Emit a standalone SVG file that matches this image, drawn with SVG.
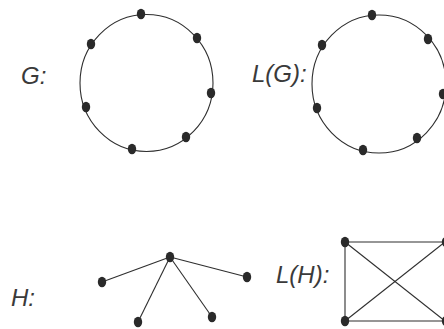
<svg xmlns="http://www.w3.org/2000/svg" width="444" height="329" viewBox="0 0 444 329">
<style>
.lbl{font-family:"Liberation Sans",Arial,sans-serif;font-style:italic;font-size:24px;fill:#3a3a3a}
.edge{stroke:#2e2e2e;stroke-width:1.1;fill:none}
.node{fill:#2a2a2a}
</style>
<rect width="444" height="329" fill="#fff"/>
<g id="connectors">
<ellipse class="edge" cx="146.5" cy="83" rx="66.5" ry="68.5"/>
<ellipse class="edge" cx="379" cy="84" rx="67" ry="69"/>
<line class="edge" x1="170" y1="257" x2="102" y2="282"/>
<line class="edge" x1="170" y1="257" x2="138" y2="322"/>
<line class="edge" x1="170" y1="257" x2="212" y2="317"/>
<line class="edge" x1="170" y1="257" x2="247" y2="277"/>
<line class="edge" x1="345" y1="242" x2="445" y2="242"/>
<line class="edge" x1="345" y1="242" x2="345" y2="321"/>
<line class="edge" x1="345" y1="321" x2="445" y2="321"/>
<line class="edge" x1="345" y1="242" x2="445" y2="321"/>
<line class="edge" x1="345" y1="321" x2="445" y2="242"/>
</g>
<g id="label-G"><text class="lbl" x="21" y="84">G:</text></g>
<g id="label-LG"><text class="lbl" x="252" y="82">L(G):</text></g>
<g id="label-H"><text class="lbl" x="11" y="306">H:</text></g>
<g id="label-LH"><text class="lbl" x="276" y="283">L(H):</text></g>
<g id="G-nodes">
<ellipse id="g1" class="node" cx="141" cy="14" rx="4.2" ry="5.2"/>
<ellipse id="g2" class="node" cx="197" cy="38" rx="4.2" ry="5.2"/>
<ellipse id="g3" class="node" cx="91" cy="44" rx="4.2" ry="5.2"/>
<ellipse id="g4" class="node" cx="211" cy="93" rx="4.2" ry="5.2"/>
<ellipse id="g5" class="node" cx="86" cy="107" rx="4.2" ry="5.2"/>
<ellipse id="g6" class="node" cx="186" cy="137" rx="4.2" ry="5.2"/>
<ellipse id="g7" class="node" cx="132" cy="149" rx="4.2" ry="5.2"/>
</g>
<g id="LG-nodes">
<ellipse id="lg1" class="node" cx="372" cy="15" rx="4.2" ry="5.2"/>
<ellipse id="lg2" class="node" cx="428" cy="39" rx="4.2" ry="5.2"/>
<ellipse id="lg3" class="node" cx="322" cy="45" rx="4.2" ry="5.2"/>
<ellipse id="lg4" class="node" cx="443" cy="94" rx="4.2" ry="5.2"/>
<ellipse id="lg5" class="node" cx="317" cy="108" rx="4.2" ry="5.2"/>
<ellipse id="lg6" class="node" cx="417" cy="138" rx="4.2" ry="5.2"/>
<ellipse id="lg7" class="node" cx="363" cy="150" rx="4.2" ry="5.2"/>
</g>
<g id="H-nodes">
<ellipse id="h0" class="node" cx="170" cy="257" rx="4.2" ry="5.2"/>
<ellipse id="h1" class="node" cx="102" cy="282" rx="4.2" ry="5.2"/>
<ellipse id="h2" class="node" cx="138" cy="322" rx="4.2" ry="5.2"/>
<ellipse id="h3" class="node" cx="212" cy="317" rx="4.2" ry="5.2"/>
<ellipse id="h4" class="node" cx="247" cy="277" rx="4.2" ry="5.2"/>
</g>
<g id="LH-nodes">
<ellipse id="lh1" class="node" cx="345" cy="242" rx="4.2" ry="5.2"/>
<ellipse id="lh2" class="node" cx="345" cy="321" rx="4.2" ry="5.2"/>
<ellipse id="lh3" class="node" cx="446" cy="242" rx="4.2" ry="5.2"/>
<ellipse id="lh4" class="node" cx="446" cy="321" rx="4.2" ry="5.2"/>
</g>
</svg>
